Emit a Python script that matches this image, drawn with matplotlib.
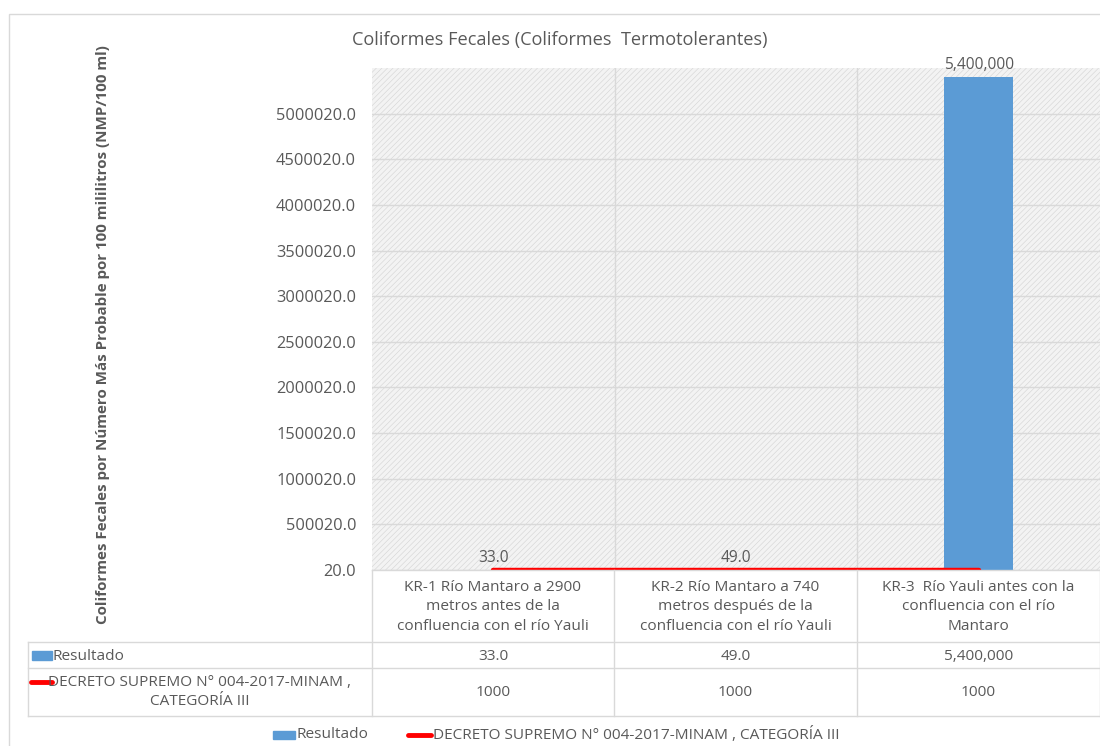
import matplotlib.pyplot as plt
from matplotlib.patches import Rectangle
from matplotlib.lines import Line2D

# Datos de coliformes fecales por punto de muestreo
categorias = [
    "KR-1 Río Mantaro a 2900\nmetros antes de la\nconfluencia con el río Yauli",
    "KR-2 Río Mantaro a 740\nmetros después de la\nconfluencia con el río Yauli",
    "KR-3  Río Yauli antes con la\nconfluencia con el río\nMantaro",
]
resultado = [33.0, 49.0, 5400000]
resultado_txt = ["33.0", "49.0", "5,400,000"]
estandar = [1000, 1000, 1000]
estandar_txt = ["1000", "1000", "1000"]
y_ticks = [20 + 500000 * i for i in range(11)]

serie_barra = "Resultado"
serie_linea = "DECRETO SUPREMO N° 004-2017-MINAM , CATEGORÍA III"

W, H = 1100, 746
GRIS = "#595959"
LINEA = "#d9d9d9"
AZUL = "#5b9bd5"
ROJO = "#ff0000"
FS = 11.1

plt.rcParams["font.family"] = ["Open Sans", "DejaVu Sans"]
plt.rcParams["hatch.linewidth"] = 0.45


def px(x, y):
    """Convert pixel coords (origin top-left) to figure fraction."""
    return x / W, 1 - y / H


fig = plt.figure(figsize=(W / 100, H / 100), dpi=100)
fig.patch.set_facecolor("white")

x0, x1, y_top, y_bot = 372, 1100, 68, 570
ax = fig.add_axes([x0 / W, 1 - y_bot / H, (x1 - x0) / W, (y_bot - y_top) / H])

# fondo rayado del área de trazado
ax.add_patch(Rectangle((0, 0), 1, 1, transform=ax.transAxes, facecolor="#f3f3f3",
                       edgecolor="#d6d6d6", hatch="//////", lw=0, zorder=0))

pos = list(range(len(categorias)))
ax.bar(pos, resultado, width=0.285, color=AZUL, zorder=3)
ax.plot(pos, estandar, color=ROJO, lw=3.2, solid_capstyle="round", zorder=4)

for x, v, t in zip(pos, resultado, resultado_txt):
    ax.annotate(t, (x, v), xytext=(0, 3), textcoords="offset points",
                ha="center", va="bottom", fontsize=11.2, color=GRIS, zorder=5)

ax.set_xlim(-0.5, 2.5)
ax.set_ylim(20, 5500020)
ax.set_yticks(y_ticks)
ax.set_yticklabels([f"{t:.1f}" for t in y_ticks])
ax.set_xticks([])
ax.tick_params(axis="y", length=0, labelsize=11.8, labelcolor=GRIS, pad=11.5)
for x in [0.5, 1.5]:
    ax.axvline(x, color=LINEA, lw=1, zorder=1)
ax.grid(axis="y", color=LINEA, lw=1, zorder=1)
ax.set_axisbelow(True)
for s in ax.spines.values():
    s.set_visible(False)

fig.text(*px(560, 40), "Coliformes Fecales (Coliformes  Termotolerantes)",
         ha="center", va="center", fontsize=13.1, color=GRIS)
fig.text(*px(103, 335),
         "Coliformes Fecales por Número Más Probable por 100 mililitros (NMP/100 ml)",
         rotation=90, ha="center", va="center", fontsize=10.9, fontweight="bold",
         color=GRIS)

# tabla de datos bajo el gráfico
cols = [28, 372, 614, 857, 1100]
filas = [570, 642, 668, 716]


def hline(y, xa, xb):
    fig.add_artist(Line2D([px(xa, y)[0], px(xb, y)[0]], [px(xa, y)[1]] * 2,
                          color=LINEA, lw=1))


def vline(x, ya, yb):
    fig.add_artist(Line2D([px(x, ya)[0]] * 2, [px(x, ya)[1], px(x, yb)[1]],
                          color=LINEA, lw=1))


hline(570, 372, 1100)
for y in filas[1:]:
    hline(y, 28, 1100)
vline(28, 642, 716)
for x in cols[1:]:
    vline(x, 570, 716)

for i, cat in enumerate(categorias):
    cx = (cols[i + 1] + cols[i + 2]) / 2
    fig.text(*px(cx, 607), cat, ha="center", va="center", fontsize=FS,
             color=GRIS, linespacing=1.45)
    fig.text(*px(cx, 656), resultado_txt[i], ha="center", va="center",
             fontsize=FS, color=GRIS)
    fig.text(*px(cx, 692), estandar_txt[i], ha="center", va="center",
             fontsize=FS, color=GRIS)

fig.add_artist(Rectangle(px(32, 660), 20 / W, 9 / H, transform=fig.transFigure,
                         color=AZUL))
fig.text(*px(53, 656), serie_barra, ha="left", va="center", fontsize=FS, color=GRIS)
fig.add_artist(Line2D([px(31, 0)[0], px(52, 0)[0]], [px(0, 682)[1]] * 2,
                      color=ROJO, lw=3.5, solid_capstyle="round"))
fig.text(*px(200, 692), "DECRETO SUPREMO N° 004-2017-MINAM ,\nCATEGORÍA III",
         ha="center", va="center", fontsize=FS, color=GRIS, linespacing=1.3)

# leyenda inferior
fig.add_artist(Rectangle(px(273, 739), 22 / W, 8 / H, transform=fig.transFigure,
                         color=AZUL))
fig.text(*px(297, 735), serie_barra, ha="left", va="center", fontsize=FS, color=GRIS)
fig.add_artist(Line2D([px(408, 0)[0], px(431, 0)[0]], [px(0, 735)[1]] * 2,
                      color=ROJO, lw=3.5, solid_capstyle="round"))
fig.text(*px(433, 735), serie_linea, ha="left", va="center", fontsize=FS, color=GRIS)

# marco del gráfico
fig.add_artist(Rectangle(px(9, 1000), 1200 / W, 986 / H, transform=fig.transFigure,
                         fill=False, edgecolor=LINEA, lw=1))

fig.savefig("out.png", dpi=100)
